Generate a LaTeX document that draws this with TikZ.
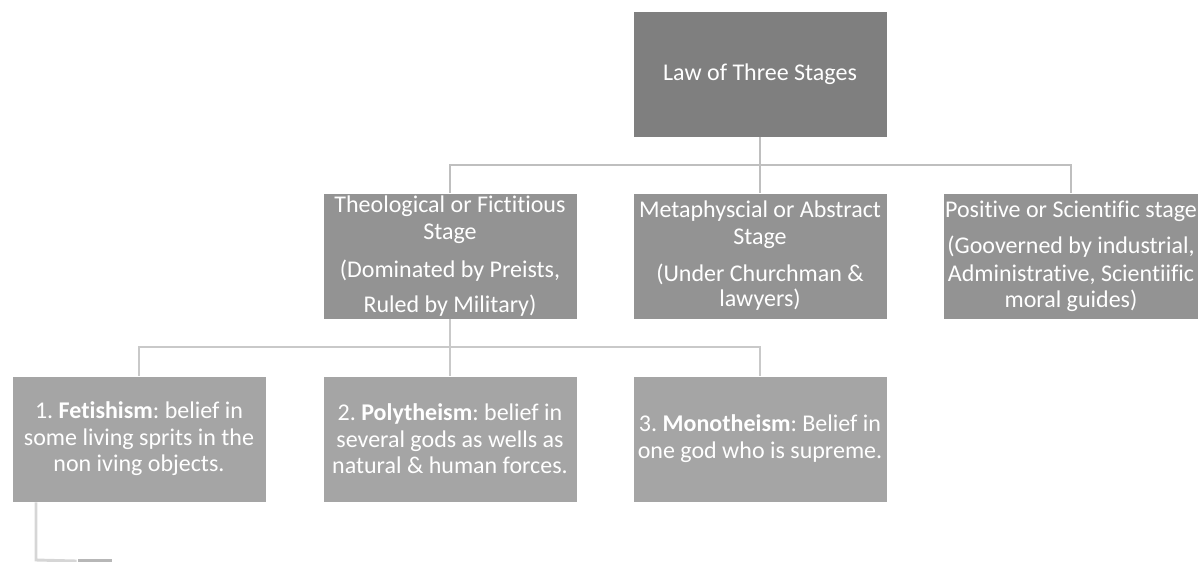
\documentclass[tikz,border=0pt]{standalone}
\usepackage{fontspec}
\setmainfont{Carlito}[Ligatures={NoCommon,NoRare,NoContextual}]
\usepackage{tikz}
\definecolor{shadeA}{HTML}{7F7F7F}
\definecolor{shadeB}{HTML}{939393}
\definecolor{shadeC}{HTML}{A5A5A5}
\definecolor{shadeD}{HTML}{B7B7B7}
\definecolor{wireA}{HTML}{BFBFBF}
\definecolor{wireB}{HTML}{C9C9C9}
\definecolor{wireC}{HTML}{D6D6D6}
\frenchspacing

\begin{document}
\begin{tikzpicture}[x=0.75pt, y=-0.75pt,
  stagebox/.style={draw=white, line width=0.6pt, text=white, align=center,
    minimum width=190.5pt, minimum height=94.5pt, inner sep=1pt,
    font=\fontsize{18}{20.25}\selectfont},
  wire/.style={line width=2.2pt}]

\useasboundingbox (0,0) rectangle (1201,561);

\node[stagebox, fill=shadeA] (Sx) at (760,74) {Law of Three Stages};

\node[stagebox, fill=shadeB] (S1x) at (450,256) {Theological or Fictitious\\Stage\\[8.25pt](Dominated by Preists,\\[6pt]Ruled by Military)};
\node[stagebox, fill=shadeB] (S2x) at (760,256) {Metaphyscial or Abstract\\Stage\\[7.5pt](Under Churchman \&\\[-1.5pt]lawyers)};
\node[stagebox, fill=shadeB] (S3x) at (1071,256) {Positive or Scientific stage\\[6.75pt](Gooverned by industrial,\\[0.75pt]Administrative, Scientiific\\[-0.75pt]moral guides)};

\coordinate (B1) at (760,165);
\draw[wire, wireA] (Sx.south) -- (B1) -| (S1x.north);
\draw[wire, wireA] (B1) -- (S2x.north);
\draw[wire, wireA] (B1) -| (S3x.north);

\node[stagebox, fill=shadeC] (S1T1x) at (139,439) {1. \textbf{Fetishism}: belief in\\some living sprits in the\\[-0.75pt]non iving objects.};
\node[stagebox, fill=shadeC] (S1T2x) at (450,439) {2. \textbf{Polytheism}: belief in\\several gods as wells as\\[-0.75pt]natural \& human forces.};
\node[stagebox, fill=shadeC] (S1T3x) at (760,439) {3. \textbf{Monotheism}: Belief in\\one god who is supreme.};

\coordinate (B2) at (450,347);
\draw[wire, wireB] (S1x.south) -- (B2) -| (S1T1x.north);
\draw[wire, wireB] (B2) -- (S1T2x.north);
\draw[wire, wireB] (B2) -| (S1T3x.north);

\node[draw=white, line width=0.6pt, fill=shadeD, minimum width=26.25pt, minimum height=4.5pt, inner sep=0pt] (S1T1T1x) at (94.5,561) {};
\coordinate (C1) at (36,560);
\draw[wire, wireC] (S1T1x.south -| C1) -- (C1) -- (S1T1T1x.west);

\end{tikzpicture}
\end{document}
